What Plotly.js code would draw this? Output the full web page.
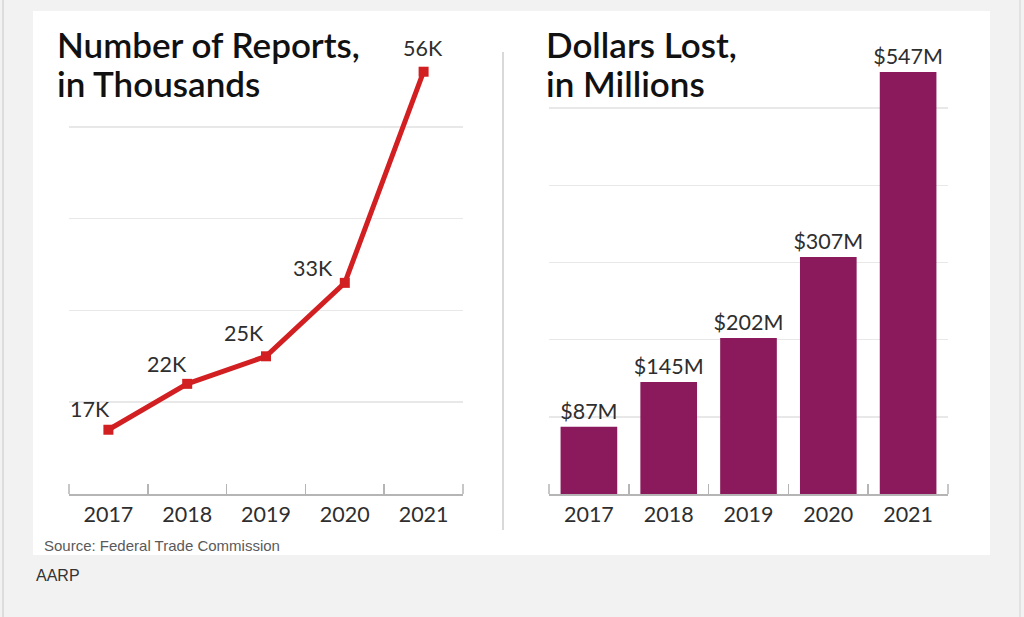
<!DOCTYPE html>
<html>
<head>
<meta charset="utf-8">
<script src="https://cdn.plot.ly/plotly-3.0.1.min.js"></script>
<style>
  html, body { margin: 0; padding: 0; background: #f2f2f2; }
  #chart { width: 1024px; height: 617px; }
</style>
</head>
<body>
<div id="chart"></div>
<script>
// ---- data ----
const years = ["2017", "2018", "2019", "2020", "2021"];
const reportsK = [17, 22, 25, 33, 56];
const reportLabels = ["17K", "22K", "25K", "33K", "56K"];
const dollarsM = [87, 145, 202, 307, 547];
const dollarLabels = ["$87M", "$145M", "$202M", "$307M", "$547M"];

const W = 1024, H = 617;
const px = x => x / W;
const py = y => 1 - y / H;

const txt = "#2e2e2e";
const lineColor = "#d21f22";
const barColor = "#8a1a5b";
const gridColor = "#e8e8e8";
const axisColor = "#b5b5b5";
const labelFont = { family: "Lato, sans-serif", size: 21.5, color: txt };

const traces = [
  {
    type: "scatter", mode: "lines+markers",
    x: years, y: reportsK, xaxis: "x", yaxis: "y",
    line: { color: lineColor, width: 5 },
    marker: { color: lineColor, symbol: "square", size: 10 },
    cliponaxis: false, hoverinfo: "skip"
  },
  {
    type: "bar",
    x: years, y: dollarsM, xaxis: "x2", yaxis: "y2",
    marker: { color: barColor },
    width: 0.71,
    text: dollarLabels, textposition: "outside", constraintext: "none",
    textfont: labelFont,
    cliponaxis: false, hoverinfo: "skip"
  }
];

// label offsets relative to each point (pixels)
const lblShift = [[-18, 21], [-20, 20], [-22, 23], [-32, 15], [-1, 24]];
const annotations = reportLabels.map((t, i) => ({
  x: i, y: reportsK[i], xref: "x", yref: "y",
  text: t, showarrow: false,
  xanchor: "center", yanchor: "middle",
  xshift: lblShift[i][0], yshift: lblShift[i][1],
  font: labelFont
}));

const titleFont = { family: "Lato, sans-serif", size: 35, weight: 600, color: "#111111" };
function titleLine(text, x, baseline) {
  return {
    xref: "paper", yref: "paper", x: px(x), y: py(baseline),
    xanchor: "left", yanchor: "bottom", yshift: -9, showarrow: false,
    text: text, font: titleFont
  };
}
annotations.push(
  titleLine("Number of Reports,", 55, 58),
  titleLine("in Thousands", 55, 97),
  titleLine("Dollars Lost,", 544, 58),
  titleLine("in Millions", 544, 97),
  {
    xref: "paper", yref: "paper", x: px(42), y: py(545),
    xanchor: "left", yanchor: "middle", showarrow: false,
    text: "Source: Federal Trade Commission",
    font: { family: "Liberation Sans, Arial, sans-serif", size: 15, color: "#5a5a5a" }
  },
  {
    xref: "paper", yref: "paper", x: px(34), y: py(575),
    xanchor: "left", yanchor: "middle", showarrow: false,
    text: "AARP",
    font: { family: "Liberation Sans, Arial, sans-serif", size: 16, color: "#333333" }
  }
);

const tickLen = 10 / 434; // end ticks of each x axis, in axis-domain units
function endTick(xa, ya, xpos) {
  return { type: "line", xref: xa + " domain", yref: ya + " domain",
    x0: xpos, x1: xpos, y0: 0, y1: tickLen,
    line: { color: axisColor, width: 1.5 } };
}

const shapes = [
  { type: "rect", xref: "paper", yref: "paper", x0: px(33), x1: px(990), y0: py(555), y1: py(11),
    fillcolor: "#ffffff", line: { width: 0 }, layer: "below" },
  { type: "line", xref: "paper", yref: "paper", x0: px(503), x1: px(503), y0: py(530), y1: py(52),
    line: { color: "#cccccc", width: 1.5 } },
  { type: "line", xref: "paper", yref: "paper", x0: px(3), x1: px(3), y0: 0, y1: 1,
    line: { color: "#d6d6d6", width: 1.5 } },
  { type: "line", xref: "paper", yref: "paper", x0: px(1020), x1: px(1020), y0: 0, y1: 1,
    line: { color: "#dcdcdc", width: 1.5 } },
  endTick("x", "y", 0), endTick("x", "y", 1),
  endTick("x2", "y2", 0), endTick("x2", "y2", 1)
];

const xCommon = {
  type: "category", range: [-0.5, 4.5],
  showline: true, linecolor: axisColor, linewidth: 2,
  ticks: "inside", tickson: "boundaries", ticklen: 10, tickcolor: axisColor, tickwidth: 1.5,
  showgrid: false, zeroline: false, fixedrange: true,
  tickfont: labelFont
};
const yDom = [py(494), py(60)];

const layout = {
  width: W, height: H,
  margin: { l: 0, r: 0, t: 0, b: 0 },
  paper_bgcolor: "#f2f2f2",
  plot_bgcolor: "rgba(0,0,0,0)",
  showlegend: false,
  xaxis: Object.assign({}, xCommon, { domain: [px(69), px(463)], anchor: "y" }),
  xaxis2: Object.assign({}, xCommon, { domain: [px(549), px(948)], anchor: "y2" }),
  yaxis: {
    domain: yDom, range: [10, 10 + 434 / 9.18], anchor: "x",
    tickvals: [20, 30, 40, 50], showticklabels: false,
    showgrid: true, gridcolor: gridColor, gridwidth: 1.5,
    zeroline: false, showline: false, fixedrange: true
  },
  yaxis2: {
    domain: yDom, range: [0, 434 / 0.7717], anchor: "x2",
    tickvals: [100, 200, 300, 400, 500], showticklabels: false,
    showgrid: true, gridcolor: gridColor, gridwidth: 1.5,
    zeroline: false, showline: false, fixedrange: true
  },
  annotations: annotations,
  shapes: shapes
};

Plotly.newPlot("chart", traces, layout, { displayModeBar: false, staticPlot: true });
</script>
</body>
</html>
